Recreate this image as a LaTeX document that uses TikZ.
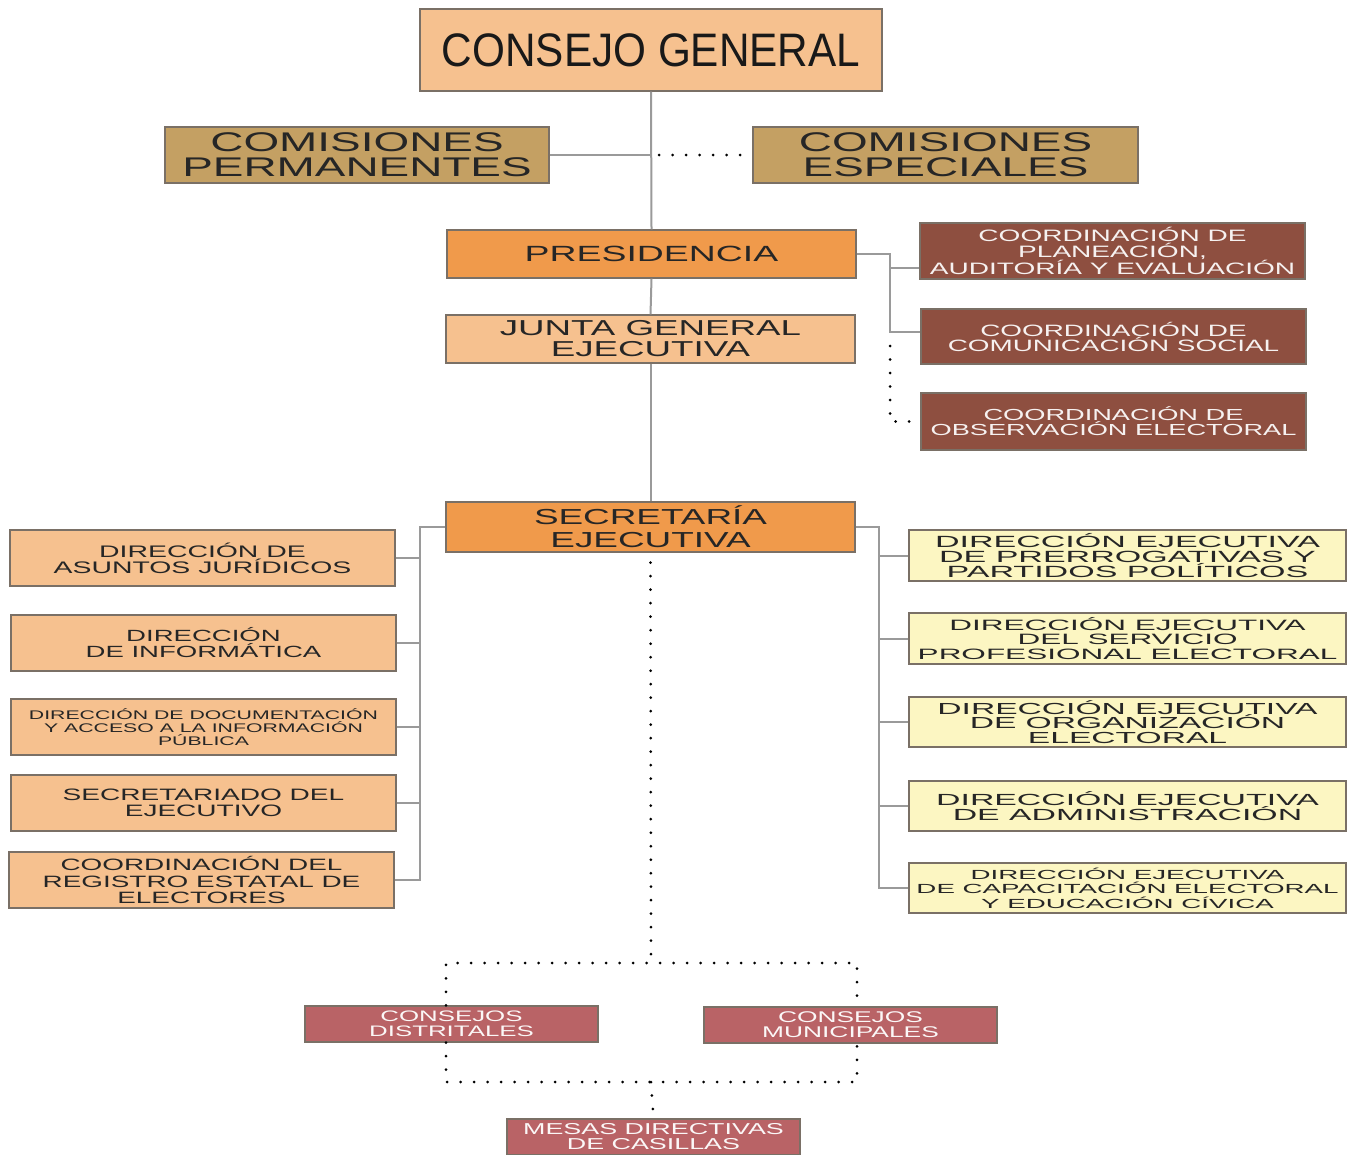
\documentclass[tikz,border=0pt]{standalone}
\usepackage{fontspec}
\usepackage{tikz}
\newfontfamily\widefont[FakeStretch=1.7]{Liberation Sans}
\newfontfamily\widerfont[FakeStretch=2.1]{Liberation Sans}
\newfontfamily\cgfont[FakeStretch=0.9]{Liberation Sans}
\newcommand\boxfs[2]{\fontsize{#1}{#2}\selectfont}
\definecolor{peach}{HTML}{F6C18F}
\definecolor{tan}{HTML}{C4A063}
\definecolor{naranja}{HTML}{F09A4B}
\definecolor{cafe}{HTML}{8E4F40}
\definecolor{crema}{HTML}{FCF6C2}
\definecolor{rosa}{HTML}{B96366}
\definecolor{linea}{HTML}{9A9A9A}
\definecolor{borde}{HTML}{7A7066}

\begin{document}
\begin{tikzpicture}[x=1pt, y=-1pt,
  box/.style={draw=borde, line width=1.3pt, align=center, inner sep=0pt,
    text=black!85},
  conn/.style={draw=linea, line width=2pt},
  dots/.style={draw=black, line width=3pt, line cap=round,
    dash pattern=on 0pt off 13.5pt},
  ]
	%%%%% START %%%%%
	\useasboundingbox (0,0) rectangle (1356,1154);
	\clip (0,0) rectangle (1356,1154);

	% top
	\node[box, fill=peach, minimum width=462, minimum height=82, text=black!90,
		font={\cgfont\boxfs{47}{50}}]
		(cg) at (651,50) {CONSEJO GENERAL};
	\node[box, fill=tan, minimum width=384, minimum height=56, font={\widefont\boxfs{27}{25}}]
		(cp) at (357,155) {COMISIONES\\PERMANENTES};
	\node[box, fill=tan, minimum width=385, minimum height=56, font={\widefont\boxfs{27}{25}}]
		(ce) at (945.5,155) {COMISIONES\\ESPECIALES};

	\node[box, fill=naranja, minimum width=409, minimum height=48, font={\widefont\boxfs{22}{22}}]
		(pres) at (651.5,254) {PRESIDENCIA};
	\node[box, fill=peach, minimum width=409, minimum height=48, font={\widefont\boxfs{21.6}{21}}]
		(jge) at (650.5,339) {JUNTA GENERAL\\EJECUTIVA};

	% coordinaciones
	\node[box, fill=cafe, text=white!92!cafe, minimum width=385, minimum height=56,
		font={\widefont\boxfs{16.5}{15.5}}]
		(c1) at (1112.5,251) {COORDINACIÓN DE\\PLANEACIÓN,\\AUDITORÍA Y EVALUACIÓN};
	\node[box, fill=cafe, text=white!92!cafe, minimum width=385, minimum height=55,
		font={\widefont\boxfs{16.4}{15}}]
		(c2) at (1113.5,336.5) {COORDINACIÓN DE\\COMUNICACIÓN SOCIAL};
	\node[box, fill=cafe, text=white!92!cafe, minimum width=385, minimum height=57,
		font={\widefont\boxfs{16}{15}}]
		(c3) at (1113.5,421.5) {COORDINACIÓN DE\\OBSERVACIÓN ELECTORAL};

	\node[box, fill=naranja, minimum width=409, minimum height=50, font={\widefont\boxfs{21.7}{23}}]
		(se) at (650.5,527) {SECRETARÍA\\EJECUTIVA};

	% izquierda
	\node[box, fill=peach, minimum width=385, minimum height=56, font={\widefont\boxfs{16.7}{16}}]
		(l1) at (202.5,558) {DIRECCIÓN DE\\ASUNTOS JURÍDICOS};
	\node[box, fill=peach, minimum width=385, minimum height=56, font={\widefont\boxfs{16.2}{16}}]
		(l2) at (203.5,643) {DIRECCIÓN\\DE INFORMÁTICA};
	\node[box, fill=peach, minimum width=385, minimum height=56, font={\widefont\boxfs{12.5}{13}}]
		(l3) at (203.5,727) {DIRECCIÓN DE DOCUMENTACIÓN\\Y ACCESO A LA INFORMACIÓN\\PÚBLICA};
	\node[box, fill=peach, minimum width=385, minimum height=56, font={\widefont\boxfs{16.5}{16}}]
		(l4) at (203.5,803) {SECRETARIADO DEL\\EJECUTIVO};
	\node[box, fill=peach, minimum width=385, minimum height=56, font={\widefont\boxfs{16.4}{16.5}}]
		(l5) at (201.5,880) {COORDINACIÓN DEL\\REGISTRO ESTATAL DE\\ELECTORES};

	% derecha
	\node[box, fill=crema, minimum width=437, minimum height=51, font={\widerfont\boxfs{16.2}{15}}]
		(r1) at (1127.5,555.5) {DIRECCIÓN EJECUTIVA\\DE PRERROGATIVAS Y\\PARTIDOS POLÍTICOS};
	\node[box, fill=crema, minimum width=437, minimum height=51, font={\widerfont\boxfs{15}{14.5}}]
		(r2) at (1127.5,638.5) {DIRECCIÓN EJECUTIVA\\DEL SERVICIO\\PROFESIONAL ELECTORAL};
	\node[box, fill=crema, minimum width=437, minimum height=50, font={\widerfont\boxfs{16}{14.5}}]
		(r3) at (1127.5,722) {DIRECCIÓN EJECUTIVA\\DE ORGANIZACIÓN\\ELECTORAL};
	\node[box, fill=crema, minimum width=437, minimum height=50, font={\widerfont\boxfs{16.1}{15}}]
		(r4) at (1127.5,806) {DIRECCIÓN EJECUTIVA\\DE ADMINISTRACIÓN};
	\node[box, fill=crema, minimum width=437, minimum height=50, font={\widerfont\boxfs{13.2}{14.5}}]
		(r5) at (1127.5,888) {DIRECCIÓN EJECUTIVA\\DE CAPACITACIÓN ELECTORAL\\Y EDUCACIÓN CÍVICA};

	% consejos
	\node[box, fill=rosa, text=white!95!rosa, minimum width=293, minimum height=36,
		font={\widefont\boxfs{15.2}{15}}]
		(cd) at (451.5,1024) {CONSEJOS\\DISTRITALES};
	\node[box, fill=rosa, text=white!95!rosa, minimum width=293, minimum height=36,
		font={\widefont\boxfs{15.5}{15}}]
		(cm) at (850.5,1025) {CONSEJOS\\MUNICIPALES};
	\node[box, fill=rosa, text=white!95!rosa, minimum width=293, minimum height=36,
		font={\widefont\boxfs{15.8}{15}}]
		(mdc) at (653.5,1137) {MESAS DIRECTIVAS\\DE CASILLAS};

	% lineas
	\draw[conn] (cg.south) -- (pres.north);
	\draw[conn] (pres.south) -- (jge.north);
	\draw[conn] (jge.south) -- (se.north);
	\draw[conn] (cp.east) -- (cp.east -| cg.south);
	\draw[dots] (cp.east -| cg.south) ++(8,0) -- (ce.west);

	\coordinate (pbus) at (890,254);
	\coordinate (pend) at (890,332);
	\draw[conn] (pres.east) -- (pbus) -- (pend) -- (pend -| c2.west);
	\draw[conn] (890,268) -- ([yshift=-17pt]c1.west);
	\draw[dots] (pend) ++(0,14) |- (c3.west);

	\coordinate (lbus) at (420,527);
	\draw[conn] (se.west) -- (lbus) |- (l5.east);
	\foreach \n in {l1,l2,l3,l4}
		\draw[conn] (\n.east) -- (\n.east -| lbus);

	\coordinate (rbus) at (879,527);
	\draw[conn] (se.east) -- (rbus) |- (r5.west);
	\foreach \n in {r1,r2,r3,r4}
		\draw[conn] (\n.west) -- (\n.west -| rbus);

	\coordinate (tj) at (651,963);
	\coordinate (bj) at (651,1082);
	\draw[dots] (se.south) ++(0,10) -- (tj);
	\draw[dots] ([xshift=-5.5pt]cd.north) -- ([xshift=-5.5pt]cd.north |- tj)
		-- ([xshift=6.5pt]cm.north |- tj) -- ([xshift=6.5pt]cm.north);
	\draw[dots] ([xshift=-5.5pt]cd.south) -- ([xshift=-5.5pt]cd.south |- bj)
		-- ([xshift=6.5pt]cm.south |- bj) -- ([xshift=6.5pt]cm.south);
	\draw[dots] (bj) -- (mdc.north);
	%%%%% END %%%%%
\end{tikzpicture}
\end{document}
